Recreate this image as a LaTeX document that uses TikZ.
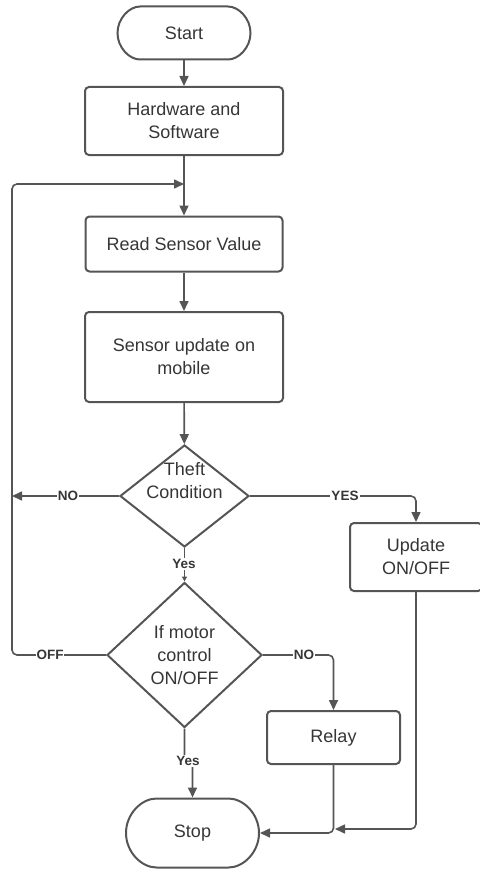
\documentclass[tikz,border=0pt]{standalone}
\usepackage{fontspec}
\setmainfont{Liberation Sans}
\usetikzlibrary{shapes.geometric,shapes.misc,arrows.meta}
\definecolor{linegray}{HTML}{555555}
\definecolor{textgray}{HTML}{363636}
\tikzset{
  box/.style={draw=linegray, line width=2pt, rounded corners=4pt, fill=white,
    text=textgray, align=center, inner sep=0pt,
    font=\fontsize{18}{23}\selectfont},
  term/.style={box, rounded rectangle},
  decision/.style={draw=linegray, line width=2pt, diamond, fill=white,
    text=textgray, align=center, inner sep=0pt,
    font=\fontsize{18}{23}\selectfont},
  flow/.style={draw=linegray, line width=1.6pt, rounded corners=5pt,
    -{Triangle[length=10pt,width=9pt]}},
  plain/.style={draw=linegray, line width=1.6pt, rounded corners=5pt},
  lbl/.style={fill=white, text=textgray, inner sep=1pt,
    font=\bfseries\fontsize{13.5}{16}\selectfont},
  dtext/.style={text=textgray, align=center, font=\fontsize{18}{23}\selectfont}
}
\begin{document}
\begin{tikzpicture}[x=1pt,y=-1pt]
\useasboundingbox (0,0) rectangle (479,872);

% process steps
\node[term, minimum width=133pt, minimum height=53pt] (start) at (184,33) {Start};
\node[box, minimum width=198pt, minimum height=68pt] (hw) at (184,121) {Hardware and\\Software};
\node[box, minimum width=197pt, minimum height=55pt] (rsv) at (184,244) {Read Sensor Value};
\node[box, minimum width=198pt, minimum height=90pt] (sum) at (184,357) {Sensor update on\\mobile};
\node[decision, minimum width=129pt, minimum height=102pt] (th) at (184.5,496) {};
\node[dtext] (thtext) at (184.5,481) {Theft\\Condition};
\node[decision, minimum width=155pt, minimum height=145pt] (mot) at (184.5,655) {If motor\\control\\ON/OFF};
\node[box, minimum width=132pt, minimum height=68pt] (upd) at (416,557) {Update\\ON/OFF};
\node[box, minimum width=133pt, minimum height=53pt] (rel) at (333.5,737.5) {Relay};
\node[term, minimum width=133pt, minimum height=69pt] (stop) at (192.5,833) {Stop};

% connector points
\coordinate (loopin) at (184,184);
\coordinate (nojoin) at (12,496);
\coordinate (relayin) at (333.5,833);

% main chain
\draw[flow] (start) -- (hw);
\draw[flow] (hw) -- (rsv);
\draw[flow] (rsv) -- (sum);
\draw[flow] (sum) -- (th);

% loop back from the motor decision
\draw[flow] (mot.west) -- (12,655) -- (12,184) -- (loopin);
\node[lbl] (offl) at (50,655) {OFF};

% theft: NO joins the loop
\draw[flow] (th.west) -- (nojoin);
\node[lbl] (nol) at (68,496) {NO};

% theft: YES to update
\draw[flow] (th.east) -- (416,496) -- (upd.north);
\node[lbl] (yesl) at (345,496) {YES};

% theft: Yes to motor decision
\draw[draw=linegray, line width=1.6pt, -{Triangle[length=5pt,width=5pt]}] (th.south) -- (mot.north);
\node[lbl] (yes1) at (184,564) {Yes};

% motor: NO to relay
\draw[flow] (mot.east) -- (333.5,655) -- (rel.north);
\node[lbl] (no2) at (304,655) {NO};

% motor: Yes to stop
\draw[flow] (mot.south) -- (184.5,761) -- (192.5,761) -- (stop.north);
\node[lbl] (yes2) at (188,761) {Yes};

% relay and update into stop
\draw[flow] (rel.south) -- (relayin) -- (stop.east);
\draw[flow] (upd.south) -- (416,829) -- (335,829);
\end{tikzpicture}
\end{document}
